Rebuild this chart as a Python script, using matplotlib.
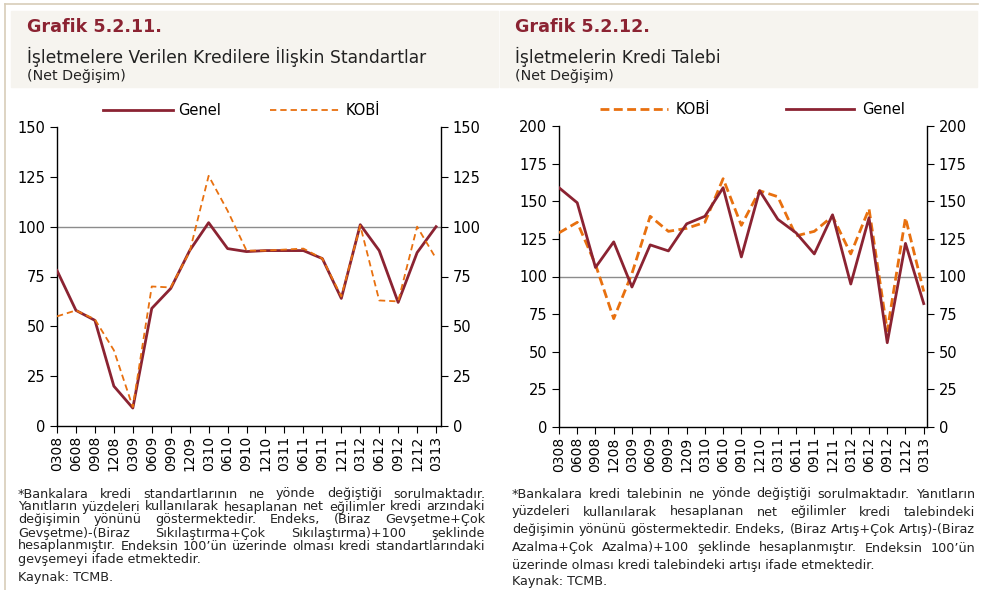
import numpy as np
import matplotlib.pyplot as plt
from matplotlib.lines import Line2D
from matplotlib.patches import Rectangle

plt.rcParams['font.family'] = ['DejaVu Sans']

periods = ["0308", "0608", "0908", "1208", "0309", "0609", "0909", "1209", "0310", "0610",
           "0910", "1210", "0311", "0611", "0911", "1211", "0312", "0612", "0912", "1212", "0313"]

# Grafik 5.2.11 - kredi standartlari
std_genel = [78, 58, 53, 20, 9, 59, 69, 88, 102, 89, 87.5, 88, 88, 88, 84, 64, 101, 88, 62, 87, 100]
std_kobi = [55, 58, 53.5, 38, 9.5, 70, 69.5, 87.5, 125.5, 108, 88, 88, 88.5, 89, 84, 65, 100.5, 63, 62.5, 100, 84]

# Grafik 5.2.12 - kredi talebi
tal_kobi = [129, 136, 108, 72, 102, 140, 130, 132, 136, 165, 134, 157, 153, 127, 130, 140, 115, 145, 64, 139, 90]
tal_genel = [159, 149, 106, 123, 93, 121, 117, 135, 140, 159, 113, 157, 138, 129, 115, 141, 95, 139, 56, 122, 82]

RED = "#8b2332"
ORANGE = "#e8700f"
W, H = 981, 590

fig = plt.figure(figsize=(W / 100, H / 100), dpi=100)


def fx(x):
    return x / W


def fy(y):
    return 1 - y / H


# frame lines and header boxes
fig.add_artist(Line2D([fx(5), fx(978)], [fy(4), fy(4)], color="#d8cdb9", lw=1.2))
fig.add_artist(Line2D([fx(5), fx(5)], [fy(4), fy(590)], color="#d8cdb9", lw=1.2))
fig.add_artist(Rectangle((fx(11), fy(87)), fx(487), 76 / H, color="#f6f4ef", zorder=0))
fig.add_artist(Rectangle((fx(500), fy(87)), fx(477), 76 / H, color="#f6f4ef", zorder=0))

fig.text(fx(27), fy(27), "Grafik 5.2.11.", color=RED, fontsize=12.6, fontweight="bold", va="center")
fig.text(fx(27), fy(57), "İşletmelere Verilen Kredilere İlişkin Standartlar", fontsize=12.3, va="center", color="#222222")
fig.text(fx(27), fy(76), "(Net Değişim)", fontsize=10.3, va="center", color="#222222")
fig.text(fx(515), fy(27), "Grafik 5.2.12.", color=RED, fontsize=12.6, fontweight="bold", va="center")
fig.text(fx(515), fy(57), "İşletmelerin Kredi Talebi", fontsize=12.3, va="center", color="#222222")
fig.text(fx(515), fy(76), "(Net Değişim)", fontsize=10.3, va="center", color="#222222")


def setup(ax, ymax, xmax):
    x = np.arange(len(periods))
    ax.set_xlim(0, xmax)
    ax.set_ylim(0, ymax)
    ax.set_xticks(x)
    ax.set_xticklabels(periods, rotation=90, fontsize=10)
    ax.set_yticks(np.arange(0, ymax + 1, 25))
    ax.tick_params(axis="y", which="both", direction="out", labelsize=10.5, left=True, right=True,
                   labelleft=True, labelright=True, length=5)
    ax.tick_params(axis="x", direction="out", length=5, pad=2)
    ax.spines["top"].set_visible(False)
    for s in ["left", "right", "bottom"]:
        ax.spines[s].set_linewidth(1.0)
    ax.axhline(100, color="#8c8c8c", lw=1.0, zorder=1)
    return x


ax1 = fig.add_axes([fx(57), fy(426), (441 - 57) / W, (426 - 127) / H])
x = setup(ax1, 150, 20.26)
l1, = ax1.plot(x, std_genel, color=RED, lw=2.0, label="Genel", zorder=3)
l2, = ax1.plot(x, std_kobi, color=ORANGE, lw=1.3, ls=(0, (3.5, 2.2)), label="KOBİ", zorder=4)
ax1.legend(handles=[l1, l2], ncol=2, loc="lower center", bbox_to_anchor=(0.48, 1.0), frameon=False,
           fontsize=10.5, handlelength=4.8, handletextpad=0.4, columnspacing=3.3, borderaxespad=0.2)

ax2 = fig.add_axes([fx(559), fy(427), (927 - 559) / W, (427 - 126) / H])
x = setup(ax2, 200, 20.18)
r1, = ax2.plot(x, tal_kobi, color=ORANGE, lw=2.0, ls=(0, (3.2, 1.6)), label="KOBİ", zorder=3)
r2, = ax2.plot(x, tal_genel, color=RED, lw=2.0, label="Genel", zorder=4)
ax2.legend(handles=[r1, r2], ncol=2, loc="lower center", bbox_to_anchor=(0.525, 1.0), frameon=False,
           fontsize=10.5, handlelength=4.7, handletextpad=0.5, columnspacing=5.2, borderaxespad=0.2)

# footnotes, justified like the source
left_notes = [
    ("*Bankalara kredi standartlarının ne yönde değiştiği sorulmaktadır.", True, 494),
    ("Yanıtların yüzdeleri kullanılarak hesaplanan net eğilimler kredi arzındaki", True, 507),
    ("değişimin yönünü göstermektedir. Endeks, (Biraz Gevşetme+Çok", True, 520),
    ("Gevşetme)-(Biraz Sıkılaştırma+Çok Sıkılaştırma)+100 şeklinde", True, 533),
    ("hesaplanmıştır. Endeksin 100’ün üzerinde olması kredi standartlarındaki", True, 546),
    ("gevşemeyi ifade etmektedir.", False, 559),
    ("Kaynak: TCMB.", False, 577),
]
right_notes = [
    ("*Bankalara kredi talebinin ne yönde değiştiği sorulmaktadır. Yanıtların", True, 494),
    ("yüzdeleri kullanılarak hesaplanan net eğilimler kredi talebindeki", True, 512),
    ("değişimin yönünü göstermektedir. Endeks, (Biraz Artış+Çok Artış)-(Biraz", True, 530),
    ("Azalma+Çok Azalma)+100 şeklinde hesaplanmıştır. Endeksin 100’ün", True, 548),
    ("üzerinde olması kredi talebindeki artışı ifade etmektedir.", False, 565),
    ("Kaynak: TCMB.", False, 581),
]

renderer = fig.canvas.get_renderer()
FS = 9.2


def write_notes(notes, x0, x1):
    for line, justify, y in notes:
        if not justify:
            fig.text(fx(x0), fy(y), line, fontsize=FS, va="center", color="#222222")
            continue
        words = line.split(" ")
        texts = [fig.text(0, fy(y), w, fontsize=FS, va="center", color="#222222") for w in words]
        widths = [t.get_window_extent(renderer).width for t in texts]
        gap = max((x1 - x0 - sum(widths)) / (len(words) - 1), 2.5)
        pos = x0
        for t, wd in zip(texts, widths):
            t.set_x(fx(pos))
            pos += wd + gap


write_notes(left_notes, 18, 485)
write_notes(right_notes, 512, 975)

fig.savefig("out.png", dpi=100)
